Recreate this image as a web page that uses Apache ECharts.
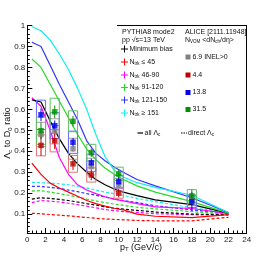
<!DOCTYPE html>
<html><head><meta charset="utf-8">
<script src="https://cdn.jsdelivr.net/npm/echarts@6/dist/echarts.min.js"></script>
<style>html,body{margin:0;padding:0;background:#fff}#c{width:274px;height:261px}</style>
</head><body><div id="c"></div>
<script>
// PYTHIA pT points (bin centres)
const ptSim = [0.5,1.5,2.5,3.5,4.5,5.5,6.5,7.5,8.5,9.5,10.5,12,14,18,22];
// all Lambda_c (solid)
const allMB   = [0.645,0.635,0.545,0.46,0.39,0.34,0.30,0.265,0.24,0.22,0.205,0.188,0.168,0.145,0.105];
const allN45  = [0.343,0.29,0.248,0.225,0.205,0.185,0.165,0.15,0.138,0.128,0.12,0.10,0.09,0.083,0.098];
const allN90  = [0.655,0.615,0.50,0.37,0.29,0.24,0.215,0.198,0.183,0.172,0.163,0.15,0.135,0.127,0.102];
const allN120 = [0.84,0.80,0.72,0.64,0.56,0.48,0.41,0.36,0.32,0.29,0.265,0.235,0.205,0.16,0.105];
const allN150 = [0.92,0.90,0.81,0.72,0.635,0.55,0.45,0.39,0.355,0.325,0.30,0.265,0.235,0.178,0.108];
const allN151 = [0.995,0.975,0.93,0.865,0.79,0.70,0.60,0.48,0.375,0.31,0.277,0.25,0.228,0.19,0.108];
// direct Lambda_c (dashed)
const dirMB   = [0.172,0.178,0.175,0.17,0.165,0.158,0.15,0.143,0.135,0.128,0.124,0.118,0.11,0.10,0.098];
const dirN45  = [0.104,0.102,0.098,0.095,0.092,0.088,0.084,0.08,0.077,0.075,0.073,0.07,0.068,0.068,0.085];
const dirN90  = [0.155,0.165,0.162,0.158,0.152,0.145,0.138,0.13,0.122,0.117,0.112,0.108,0.102,0.097,0.095];
const dirN120 = [0.21,0.212,0.205,0.198,0.19,0.182,0.172,0.163,0.155,0.148,0.142,0.133,0.125,0.112,0.10];
const dirN150 = [0.232,0.232,0.228,0.222,0.215,0.207,0.198,0.19,0.182,0.172,0.165,0.155,0.14,0.12,0.105];
const dirN151 = [0.252,0.25,0.248,0.245,0.24,0.232,0.225,0.215,0.205,0.198,0.19,0.175,0.16,0.13,0.11];
// ALICE data
const ptData = [1.5,3,5,7,10,18];
const aliceINEL = [0.48,0.495,0.412,0.327,0.24,0.167];
const aliceINELStat = [0.02,0.02,0.015,0.015,0.012,0.015];
const aliceINELSys = [0.058,0.06,0.05,0.04,0.03,0.025];
const alice44 = [0.428,0.45,0.34,0.287,0.20,null];
const alice44Stat = [0.05,0.04,0.03,0.025,0.02,null];
const alice44Sys = [0.05,0.053,0.04,0.034,0.024,null];
const alice138 = [0.574,0.522,0.443,0.345,0.255,0.16];
const alice138Stat = [0.03,0.025,0.02,0.02,0.02,0.045];
const alice138Sys = [0.07,0.062,0.053,0.041,0.03,0.028];
const alice315 = [0.498,0.588,0.543,0.393,0.292,0.187];
const alice315Stat = [0.04,0.03,0.025,0.02,0.02,0.03];
const alice315Sys = [0.065,0.065,0.05,0.04,0.032,0.03];
// ticks
const yMajor = [0.1,0.2,0.3,0.4,0.5,0.6,0.7,0.8,0.9,1];
const yMinor = [0.02,0.04,0.06,0.08,0.12,0.14,0.16,0.18,0.22,0.24,0.26,0.28,0.32,0.34,0.36,0.38,0.42,0.44,0.46,0.48,0.52,0.54,0.56,0.58,0.62,0.64,0.66,0.68,0.72,0.74,0.76,0.78,0.82,0.84,0.86,0.88,0.92,0.94,0.96,0.98];

const C = {mb:'#000000', n45:'#ff0000', n90:'#ff00ff', n120:'#22dd22', n150:'#3333ff', n151:'#11eeee'};
const chart = echarts.init(document.getElementById('c'), null, {renderer:'canvas'});
const zip = (xs, ys) => xs.map((x,i)=> ys[i]==null ? null : [x, ys[i]]).filter(d=>d);
const zip3 = (xs, ys, es, ss) => xs.map((x,i)=> ys[i]==null ? null : [x, ys[i], es[i], ss[i]]).filter(d=>d);

function line(data, color, dashed){
  return {type:'line', data: zip(ptSim, data), showSymbol:false, symbol:'none', animation:false,
    lineStyle:{color, width:1.2, type: dashed ? [3,2] : 'solid'}, z:2};
}
function sysBox(xs, ys, es, ss, color){
  return {type:'custom', data: zip3(xs,ys,es,ss), animation:false, z:3,
    renderItem:(p, api)=>{
      const x=api.value(0), y=api.value(1), s=api.value(3);
      const a=api.coord([x-0.5, y+s]), b=api.coord([x+0.5, y-s]);
      return {type:'rect', shape:{x:a[0], y:a[1], width:b[0]-a[0], height:b[1]-a[1]},
        style:{fill:'none', stroke:color, lineWidth:1}};
    }};
}
function statBar(xs, ys, es, ss, color){
  return {type:'custom', data: zip3(xs,ys,es,ss), animation:false, z:4,
    renderItem:(p, api)=>{
      const x=api.value(0), y=api.value(1), e=api.value(2);
      const a=api.coord([x, y+e]), b=api.coord([x, y-e]);
      return {type:'line', shape:{x1:a[0], y1:a[1], x2:b[0], y2:b[1]}, style:{stroke:color, lineWidth:1}};
    }};
}
function marks(xs, ys, color){
  return {type:'scatter', data: zip(xs,ys), symbol:'rect', symbolSize:5.5, animation:false, z:5,
    itemStyle:{color}};
}
const font = 'Liberation Sans, Arial, sans-serif';
const txt = (x,y,text,extra) => Object.assign({type:'text', x, y, style:Object.assign({text, fill:'#111', font:'7px '+font, verticalAlign:'middle'}, extra||{})});
function cross(x,y,color){
  return [{type:'line', shape:{x1:x-3.5,y1:y,x2:x+3.5,y2:y}, style:{stroke:color, lineWidth:1}},
          {type:'line', shape:{x1:x,y1:y-3.5,x2:x,y2:y+3.5}, style:{stroke:color, lineWidth:1}}];
}
function sq(x,y,color){ return {type:'rect', shape:{x:x-2.5,y:y-2.5,width:5,height:5}, style:{fill:color}}; }
function ntrk(x,y,rest){
  return {type:'text', x, y, style:{rich:{n:{fontSize:7, fontFamily:font, fill:'#111'}, s:{fontSize:4.5, fontFamily:font, fill:'#111', padding:[3,0,0,0]}},
    text:'{n|N}{s|trk}{n| '+rest+'}', verticalAlign:'middle'}};
}

const graphics = [
  {type:'line', shape:{x1:117, y1:25.5, x2:246.7, y2:25.5}, style:{stroke:'#000', lineWidth:1}},
  txt(122,32,'PYTHIA8 mode2'),
  txt(122,40.5,'pp √s=13 TeV'),
  ...cross(124.5,49,C.mb), txt(129.5,49,'Minimum bias'),
  ...cross(124.5,62,C.n45), ntrk(129.5,62,'≤ 45'),
  ...cross(124.5,75,C.n90), ntrk(129.5,75,'46-90'),
  ...cross(124.5,87.5,C.n120), ntrk(129.5,87.5,'91-120'),
  ...cross(124.5,100,C.n150), ntrk(129.5,100,'121-150'),
  ...cross(124.5,113,C.n151), ntrk(129.5,113,'≥ 151'),
  txt(185,32,'ALICE [2111.11948]'),
  {type:'text', x:185, y:40.5, style:{rich:{n:{fontSize:7, fontFamily:font, fill:'#111'}, s:{fontSize:4.5, fontFamily:font, fill:'#111', padding:[3,0,0,0]}},
    text:'{n|N}{s|VOM}{n| <dN}{s|ch}{n|/dη>}', verticalAlign:'middle'}},
  sq(188,57,'#808080'), txt(192.5,57,'6.9 INEL>0'),
  sq(188,75,'#c00000'), txt(192.5,75,'4.4'),
  sq(188,92.5,'#0000ee'), txt(192.5,92.5,'13.8'),
  sq(188,109.5,'#009000'), txt(192.5,109.5,'31.5'),
  {type:'line', shape:{x1:137.5,y1:133,x2:143,y2:133}, style:{stroke:'#000', lineWidth:1.2}},
  {type:'text', x:144.5, y:133, style:{rich:{n:{fontSize:7, fontFamily:font, fill:'#111'}, s:{fontSize:4.5, fontFamily:font, fill:'#111', padding:[3,0,0,0]}}, text:'{n|all Λ}{s|c}', verticalAlign:'middle'}},
  {type:'line', shape:{x1:181,y1:133,x2:187,y2:133}, style:{stroke:'#000', lineWidth:1.2, lineDash:[1.5,1]}},
  {type:'text', x:188, y:133, style:{rich:{n:{fontSize:7, fontFamily:font, fill:'#111'}, s:{fontSize:4.5, fontFamily:font, fill:'#111', padding:[3,0,0,0]}}, text:'{n|direct Λ}{s|c}', verticalAlign:'middle'}},
  {type:'text', x:141, y:247.5, style:{rich:{n:{fontSize:9, fontFamily:font, fill:'#111'}, s:{fontSize:6, fontFamily:font, fill:'#111', padding:[4,0,0,0]}}, text:'{n|p}{s|T}{n| (GeV/c)}', align:'center', verticalAlign:'middle'}},
  {type:'text', x:8, y:133, rotation:Math.PI/2, style:{rich:{n:{fontSize:9, fontFamily:font, fill:'#111'}, s:{fontSize:6, fontFamily:font, fill:'#111', padding:[4,0,0,0]}}, text:'{n|Λ}{s|c}{n| to D}{s|0}{n| ratio}', align:'center', verticalAlign:'middle'}}
];

const option = {
  animation:false,
  backgroundColor:'#fff',
  grid:{left:27.3, right:27.3, top:25.5, bottom:28, containLabel:false},
  xAxis:[{type:'value', min:0, max:24, interval:2,
    axisLine:{show:true, lineStyle:{color:'#000', width:1}},
    axisTick:{show:true, inside:true, length:5, lineStyle:{color:'#000'}},
    minorTick:{show:true, splitNumber:4, length:2.5, lineStyle:{color:'#000'}},
    axisLabel:{fontSize:8, fontFamily:font, color:'#222', margin:3},
    splitLine:{show:false}}],
  yAxis:[
    {type:'value', min:0.01, max:1, position:'left',
      axisLine:{show:true, lineStyle:{color:'#000', width:1}},
      axisTick:{show:true, inside:true, length:5, customValues:yMajor, lineStyle:{color:'#000'}},
      axisLabel:{show:true, fontSize:8, fontFamily:font, color:'#222', margin:2, customValues:yMajor},
      splitLine:{show:false}},
    {type:'value', min:0.01, max:1, position:'left',
      axisLine:{show:false},
      axisTick:{show:true, inside:true, length:2.5, customValues:yMinor, lineStyle:{color:'#000'}},
      axisLabel:{show:false}, splitLine:{show:false}},
    {type:'value', min:0.01, max:1, position:'right',
      axisLine:{show:true, lineStyle:{color:'#000', width:1}},
      axisTick:{show:false}, axisLabel:{show:false}, splitLine:{show:false}}
  ],
  series:[
    line(dirN45, C.n45, true), line(dirN90, C.n90, true), line(dirMB, C.mb, true),
    line(dirN120, C.n120, true), line(dirN150, C.n150, true), line(dirN151, C.n151, true),
    line(allN45, C.n45), line(allN90, C.n90), line(allMB, C.mb),
    line(allN120, C.n120), line(allN150, C.n150), line(allN151, C.n151),
    sysBox(ptData, aliceINEL, aliceINELStat, aliceINELSys, '#a0a0a0'),
    sysBox(ptData, alice44, alice44Stat, alice44Sys, '#e07070'),
    sysBox(ptData, alice138, alice138Stat, alice138Sys, '#6a6aff'),
    sysBox(ptData, alice315, alice315Stat, alice315Sys, '#60c060'),
    statBar(ptData, aliceINEL, aliceINELStat, aliceINELSys, '#808080'),
    statBar(ptData, alice44, alice44Stat, alice44Sys, '#c00000'),
    statBar(ptData, alice138, alice138Stat, alice138Sys, '#0000ee'),
    statBar(ptData, alice315, alice315Stat, alice315Sys, '#009000'),
    marks(ptData, aliceINEL, '#808080'),
    marks(ptData, alice44, '#c00000'),
    marks(ptData, alice138, '#0000ee'),
    marks(ptData, alice315, '#009000')
  ],
  graphic: graphics
};
chart.setOption(option);
</script></body></html>
